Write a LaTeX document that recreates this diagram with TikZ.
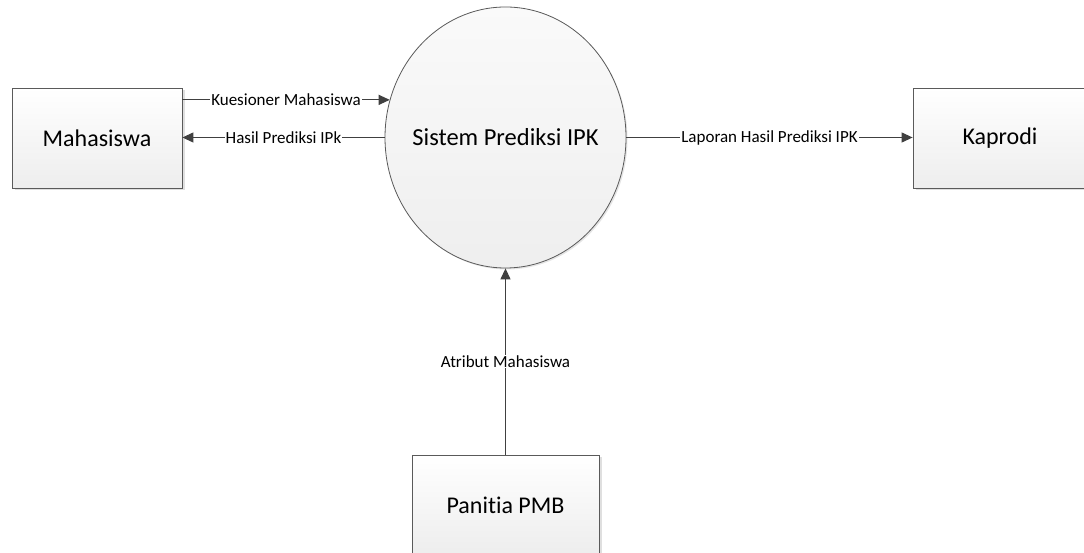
\documentclass[tikz,border=0pt]{standalone}
\usepackage{fontspec}
\setmainfont{Carlito}[Ligatures={NoCommon}]
\usetikzlibrary{arrows.meta,shapes.geometric,shadows}
\definecolor{linegray}{HTML}{404040}
\definecolor{boxgray}{HTML}{5A5A5A}
\tikzset{
  entity/.style={draw=boxgray, line width=0.8pt, minimum width=170pt, minimum height=100pt,
    top color=white, bottom color=gray!14, font=\fontsize{24}{28}\selectfont,
    drop shadow={shadow xshift=2.5pt, shadow yshift=-2.5pt, opacity=0.25, fill=gray}},
  process/.style={ellipse, draw=boxgray, line width=0.8pt, minimum width=241pt, minimum height=261pt,
    inner sep=0pt, top color=gray!4, bottom color=gray!13,
    drop shadow={shadow xshift=1.5pt, shadow yshift=-1.5pt, opacity=0.2, fill=gray}},
  processtext/.style={inner sep=0pt, font=\fontsize{24.5}{28}\selectfont},
  flow/.style={draw=linegray, line width=1.1pt, -{Triangle[length=11pt,width=10pt]}},
  flowlabel/.style={fill=white, inner sep=1pt, font=\fontsize{17}{20}\selectfont, text=black}
}
\begin{document}
\begin{tikzpicture}[x=1pt,y=1pt]
  \clip (0,0) rectangle (1084,553);
  \fill[white] (0,0) rectangle (1084,553);

  % external entities and the central process
  \node[entity] (maha) at (97,415) {Mahasiswa};
  \node[entity, minimum width=174pt] (kap) at (1000,415) {Kaprodi};
  \node[entity, minimum width=187pt] (pan) at (505.5,48) {Panitia PMB};
  \node[process] (sys) at (505.5,415.5) {};
  \node[processtext] (systext) at (sys.center) {Sistem Prediksi IPK};

  % data flows
  \coordinate (kin) at (sys.162);
  \draw[flow] (maha.east |- kin) -- node[flowlabel] {Kuesioner Mahasiswa} (kin);
  \draw[flow] (sys.west) -- node[flowlabel] {Hasil Prediksi IPk} (sys.west -| maha.east);
  \draw[flow] (sys.east) -- node[flowlabel] {Laporan Hasil Prediksi IPK} (sys.east -| kap.west);
  \draw[flow] (pan.north) -- node[flowlabel] {Atribut Mahasiswa} (sys.south);
\end{tikzpicture}
\end{document}
